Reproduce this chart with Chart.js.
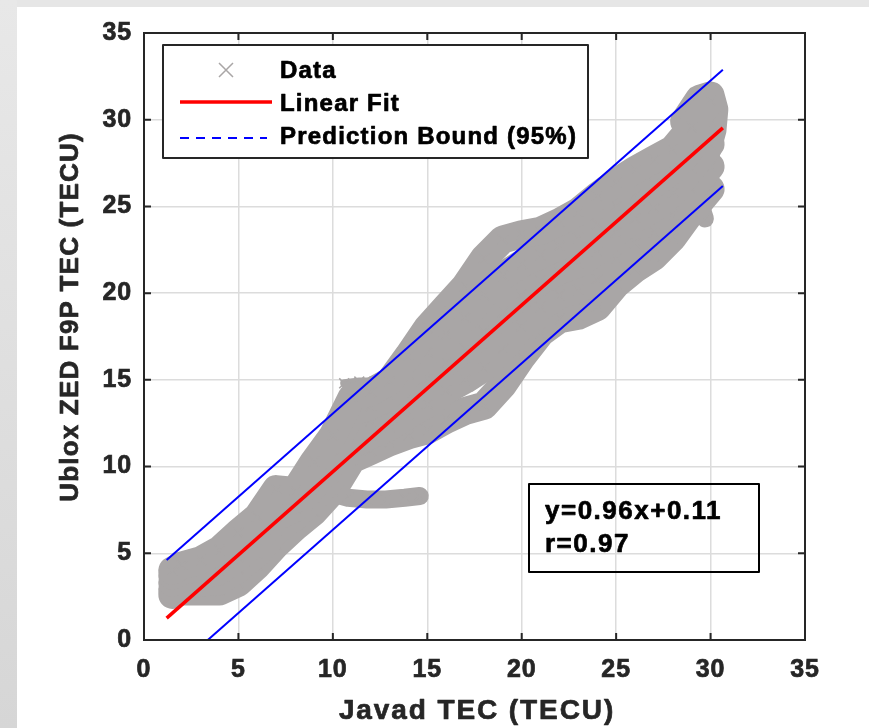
<!DOCTYPE html>
<html>
<head>
<meta charset="UTF-8">
<title>Ublox ZED F9P vs Javad TEC</title>
<style>
  html, body { margin: 0; padding: 0; background: #ffffff; }
  #chart { display: block; }
</style>
</head>
<body>
<canvas id="chart" width="869" height="728"></canvas>
<script src="https://cdn.jsdelivr.net/npm/chart.js"></script>
<script>
// tick labels
const xTicks = [0, 5, 10, 15, 20, 25, 30, 35];
const yTicks = [0, 5, 10, 15, 20, 25, 30, 35];

const trackX    = [1.5, 2, 3, 4, 5, 6, 7, 8, 9, 10, 11, 12, 13, 14, 15, 16, 17, 18, 19, 20, 21, 22, 23, 24, 25, 26, 27, 28, 29, 30];
const upperY    = [4.0, 4.3, 4.6, 5.2, 6.2, 7.1, 8.7, 8.6, 10.3, 11.8, 14.0, 14.3, 14.9, 16.4, 18.0, 19.2, 20.4, 22.0, 23.1, 23.4, 23.6, 24.1, 24.7, 25.6, 26.4, 27.1, 27.7, 28.3, 29.6, 31.1];
const upperMidY = [3.7, 4.0, 4.2, 4.6, 5.5, 6.4, 7.9, 8.1, 9.6, 11.0, 13.1, 13.5, 14.1, 15.3, 16.6, 17.6, 18.6, 19.9, 21.0, 21.7, 22.2, 22.7, 23.2, 24.0, 25.0, 25.7, 26.3, 27.1, 28.4, 29.9];
const midY      = [3.3, 3.6, 3.7, 4.0, 4.8, 5.7, 7.1, 7.6, 8.9, 10.2, 12.2, 12.6, 13.2, 14.1, 15.1, 16.0, 16.8, 17.8, 18.9, 19.9, 20.7, 21.3, 21.7, 22.4, 23.5, 24.3, 24.9, 25.8, 27.2, 28.6];
const lowerMidY = [2.9, 3.2, 3.3, 3.4, 4.1, 5.0, 6.3, 7.1, 8.2, 9.4, 11.3, 11.8, 12.3, 13.0, 13.6, 14.4, 15.0, 15.7, 16.8, 18.1, 19.2, 19.9, 20.2, 20.8, 22.0, 22.9, 23.5, 24.5, 26.0, 27.3];
const lowerY    = [2.6, 2.8, 2.8, 2.8, 3.3, 4.3, 5.5, 6.5, 7.4, 8.6, 10.4, 10.9, 11.4, 11.8, 12.1, 12.7, 13.2, 13.5, 14.7, 16.3, 17.7, 18.5, 18.7, 19.2, 20.5, 21.4, 22.1, 23.2, 24.7, 26.0];

// side branches of the cloud
const armX  = [9.8, 10.8, 11.8, 12.8, 13.8, 14.6];
const armY  = [8.5, 8.2, 8.1, 8.1, 8.2, 8.3];
const spikeX = [10.6, 11.4, 12.2];
const spikeY = [14.8, 14.9, 14.9];
const loopX = [28.6, 29.4, 30.0, 30.2, 30.1, 29.8];
const loopY = [29.9, 31.2, 31.4, 30.6, 29.4, 28.2];
const spurX = [29.0, 29.4, 29.7];
const spurY = [26.8, 25.3, 24.3];

// linear fit and 95% prediction bounds (end points)
const fitX = [1.2, 30.65];
const fitY = [1.26, 29.53];
const upperBoundY = [4.61, 32.88];
const lowerBoundY = [-2.09, 26.18];

const FONT = '"Liberation Sans", Arial, sans-serif';
const GREY = '#a9a6a6';
const INK = '#262626';

function pts(xs, ys) {
  return xs.map((x, i) => ({ x: x, y: ys[i] }));
}

function trace(xs, ys, width) {
  return {
    label: 'Data',
    data: pts(xs, ys),
    showLine: true,
    borderColor: GREY,
    backgroundColor: GREY,
    borderWidth: width,
    borderCapStyle: 'round',
    borderJoinStyle: 'round',
    pointStyle: 'crossRot',
    pointRadius: 7,
    pointBorderColor: GREY,
    pointBorderWidth: 1.5,
    order: 2
  };
}

function straight(label, ys, color, width) {
  return {
    label: label,
    data: pts(fitX, ys),
    showLine: true,
    borderColor: color,
    borderWidth: width,
    pointRadius: 0,
    order: label === 'Linear Fit' ? 0 : 1
  };
}

// heavy text: fill plus a thin outline of the same colour
function boldText(ctx, text, x, y) {
  ctx.fillText(text, x, y);
  ctx.strokeText(text, x, y);
}

const frame = {
  id: 'frame',
  beforeDraw(chart) {
    const { ctx, width, height } = chart;
    ctx.save();
    ctx.fillStyle = '#e6e6e6';
    ctx.fillRect(0, 0, width, 7);
    const g = ctx.createLinearGradient(0, 0, 0, height);
    g.addColorStop(0, '#e8e8e8');
    g.addColorStop(1, '#d6d6d6');
    ctx.fillStyle = g;
    ctx.fillRect(0, 0, 17, height);
    ctx.restore();
    ctx.letterSpacing = '0.9px';
  },
  afterDraw(chart) {
    const { ctx, chartArea: a } = chart;
    const sx = chart.scales.x, sy = chart.scales.y;
    ctx.save();

    // axes box with inward ticks
    ctx.strokeStyle = INK;
    ctx.lineWidth = 2;
    ctx.strokeRect(a.left, a.top, a.right - a.left, a.bottom - a.top);
    ctx.beginPath();
    xTicks.forEach(v => {
      const p = sx.getPixelForValue(v);
      ctx.moveTo(p, a.bottom); ctx.lineTo(p, a.bottom - 7);
      ctx.moveTo(p, a.top); ctx.lineTo(p, a.top + 7);
    });
    yTicks.forEach(v => {
      const p = sy.getPixelForValue(v);
      ctx.moveTo(a.left, p); ctx.lineTo(a.left + 7, p);
      ctx.moveTo(a.right, p); ctx.lineTo(a.right - 7, p);
    });
    ctx.stroke();

    // axis titles
    ctx.fillStyle = INK;
    ctx.strokeStyle = INK;
    ctx.lineWidth = 0.7;
    ctx.lineJoin = 'round';
    ctx.textAlign = 'center';
    ctx.textBaseline = 'middle';
    ctx.letterSpacing = '1.9px';
    ctx.font = 'bold 28px ' + FONT;
    boldText(ctx, 'Javad TEC (TECU)', 477, 711);
    ctx.save();
    ctx.translate(71, 317);
    ctx.rotate(-Math.PI / 2);
    ctx.letterSpacing = '1.2px';
    ctx.font = 'bold 26px ' + FONT;
    boldText(ctx, 'Ublox ZED F9P TEC (TECU)', 0, 0);
    ctx.restore();
    ctx.letterSpacing = '1.2px';

    // legend
    const lx = a.left + 19, ly = a.top + 12;
    ctx.fillStyle = '#ffffff';
    ctx.fillRect(lx, ly, 425, 113);
    ctx.strokeStyle = INK;
    ctx.lineWidth = 2;
    ctx.strokeRect(lx, ly, 425, 113);

    ctx.strokeStyle = GREY;
    ctx.lineWidth = 1.5;
    ctx.beginPath();
    ctx.moveTo(lx + 56, ly + 18); ctx.lineTo(lx + 70, ly + 32);
    ctx.moveTo(lx + 70, ly + 18); ctx.lineTo(lx + 56, ly + 32);
    ctx.stroke();

    ctx.strokeStyle = '#ff0000';
    ctx.lineWidth = 3.5;
    ctx.beginPath();
    ctx.moveTo(lx + 17, ly + 57); ctx.lineTo(lx + 109, ly + 57);
    ctx.stroke();

    ctx.strokeStyle = '#0000ff';
    ctx.lineWidth = 2;
    ctx.setLineDash([9, 7]);
    ctx.beginPath();
    ctx.moveTo(lx + 17, ly + 93); ctx.lineTo(lx + 104, ly + 93);
    ctx.stroke();
    ctx.setLineDash([]);

    ctx.fillStyle = '#000000';
    ctx.strokeStyle = '#000000';
    ctx.lineWidth = 0.7;
    ctx.textBaseline = 'middle';
    ctx.textAlign = 'left';
    ctx.font = 'bold 24px ' + FONT;
    boldText(ctx, 'Data', lx + 117, ly + 26);
    boldText(ctx, 'Linear Fit', lx + 117, ly + 59);
    boldText(ctx, 'Prediction Bound (95%)', lx + 117, ly + 92);

    // fit equation box
    ctx.lineWidth = 2;
    ctx.strokeRect(529, 484, 230, 88);
    ctx.lineWidth = 0.7;
    ctx.letterSpacing = '1.5px';
    ctx.font = 'bold 26px ' + FONT;
    boldText(ctx, 'y=0.96x+0.11', 545, 512);
    boldText(ctx, 'r=0.97', 545, 545);

    ctx.restore();
  }
};

const tickFont = { family: FONT, size: 25, weight: 'bold' };

new Chart(document.getElementById('chart'), {
  type: 'scatter',
  data: {
    datasets: [
      straight('Linear Fit', fitY, '#ff0000', 3.5),
      straight('Prediction Bound', upperBoundY, '#0000ff', 2),
      straight('Prediction Bound', lowerBoundY, '#0000ff', 2),
      trace(trackX, upperY, 28),
      trace(trackX, upperMidY, 28),
      trace(trackX, midY, 28),
      trace(trackX, lowerMidY, 28),
      trace(trackX, lowerY, 28),
      trace(armX, armY, 18),
      trace(spikeX, spikeY, 8),
      trace(loopX, loopY, 28),
      trace(spurX, spurY, 18)
    ]
  },
  options: {
    responsive: false,
    animation: false,
    devicePixelRatio: 1,
    layout: { padding: { left: 0, top: 33, right: 64, bottom: 0 } },
    plugins: {
      legend: { display: false },
      tooltip: { enabled: false }
    },
    scales: {
      x: {
        type: 'linear',
        position: 'bottom',
        min: 0,
        max: 35,
        afterBuildTicks: s => { s.ticks = xTicks.map(v => ({ value: v })); },
        afterFit: s => { s.height = 88; },
        border: { display: false },
        grid: { color: '#dcdcdc', lineWidth: 1.5, drawTicks: false },
        ticks: { font: tickFont, color: INK, padding: 15, maxRotation: 0, autoSkip: false,
                 textStrokeColor: INK, textStrokeWidth: 0.7 }
      },
      y: {
        type: 'linear',
        position: 'left',
        min: 0,
        max: 35,
        afterBuildTicks: s => { s.ticks = yTicks.map(v => ({ value: v })); },
        afterFit: s => { s.width = 144; },
        border: { display: false },
        grid: { color: '#dcdcdc', lineWidth: 1.5, drawTicks: false },
        ticks: { font: tickFont, color: INK, padding: 12, autoSkip: false,
                 textStrokeColor: INK, textStrokeWidth: 0.7 }
      }
    }
  },
  plugins: [frame]
});
</script>
</body>
</html>
